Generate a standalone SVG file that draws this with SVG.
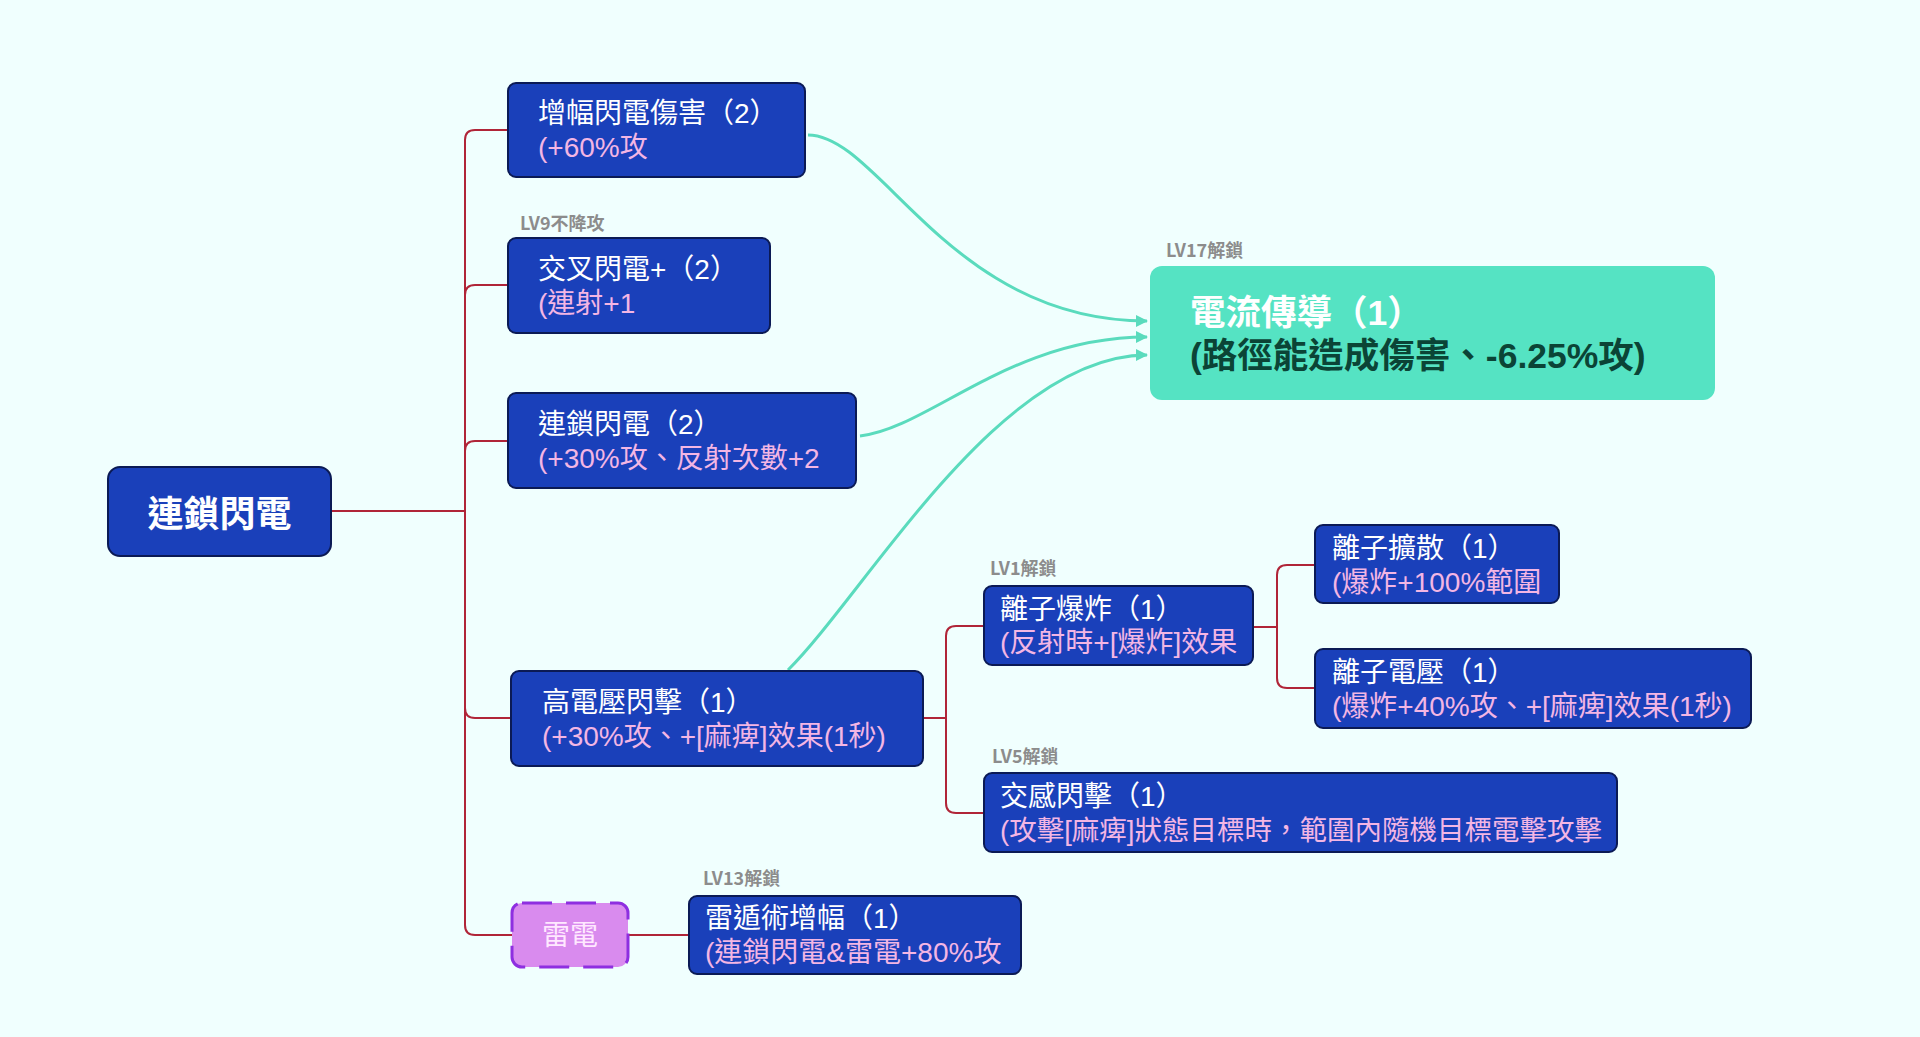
<svg xmlns="http://www.w3.org/2000/svg" width="1920" height="1037" viewBox="0 0 1920 1037">
<defs>
<style>
.bg{fill:#F0FFFE}
.node{fill:#1A40BA;stroke:#0B1A55;stroke-width:2}
.t{font-family:"Liberation Sans","Noto Sans CJK TC","Noto Sans CJK SC",sans-serif;font-size:28px}
.w{fill:#FFFFFF}
.p{fill:#F3B6E4}
.lbl{font-family:"Noto Sans CJK TC","Noto Sans CJK SC","Noto Sans",sans-serif;font-size:18px;font-weight:bold;fill:#8C8C8C}
.br{fill:none;stroke:#B02538;stroke-width:2}
.tl{fill:none;stroke:#5ADBBD;stroke-width:3}
</style>
<marker id="ah" viewBox="0 0 12 12" refX="11" refY="6" markerWidth="12" markerHeight="12" markerUnits="userSpaceOnUse" orient="auto">
<path d="M0,0 L12,6 L0,12 Z" fill="#5ADBBD"/>
</marker>
</defs>
<rect class="bg" x="0" y="0" width="1920" height="1037"/>

<g id="connectors">
<path class="br" d="M331,511 H465"/>
<path class="br" d="M465,511 V140 Q465,130 475,130 H508"/>
<path class="br" d="M465,511 V295 Q465,285 475,285 H508"/>
<path class="br" d="M465,511 V451 Q465,441 475,441 H508"/>
<path class="br" d="M465,511 V708 Q465,718 475,718 H511"/>
<path class="br" d="M465,511 V925 Q465,935 475,935 H512"/>
<path class="br" d="M923,718 H946"/>
<path class="br" d="M946,718 V636 Q946,626 956,626 H984"/>
<path class="br" d="M946,718 V803 Q946,813 956,813 H984"/>
<path class="br" d="M1253,627 H1277"/>
<path class="br" d="M1277,627 V575 Q1277,565 1287,565 H1315"/>
<path class="br" d="M1277,627 V678 Q1277,688 1287,688 H1315"/>
<path class="br" d="M628,935 H689"/>
<path class="tl" marker-end="url(#ah)" d="M808,135 C880,135 950,321 1147,321"/>
<path class="tl" marker-end="url(#ah)" d="M860,436 C930,428 1010,337 1147,337"/>
<path class="tl" marker-end="url(#ah)" d="M788,670 C868,590 1000,355 1147,355"/>
</g>

<g id="root">
<rect class="node" x="108" y="467" width="223" height="89" rx="12"/>
<text class="t w" x="219.5" y="527" font-weight="bold" text-anchor="middle" style="font-size:36px">連鎖閃電</text>
</g>

<g id="n-amp">
<rect class="node" x="508" y="83" width="297" height="94" rx="8"/>
<text class="t"><tspan class="w" x="538" y="123">增幅閃電傷害（2）</tspan><tspan class="p" x="538" y="157">(+60%攻</tspan></text>
</g>

<g id="n-cross">
<text class="lbl" x="520" y="230">LV9不降攻</text>
<rect class="node" x="508" y="238" width="262" height="95" rx="8"/>
<text class="t"><tspan class="w" x="538" y="279">交叉閃電+（2）</tspan><tspan class="p" x="538" y="313">(連射+1</tspan></text>
</g>

<g id="n-chain">
<rect class="node" x="508" y="393" width="348" height="95" rx="8"/>
<text class="t"><tspan class="w" x="538" y="434">連鎖閃電（2）</tspan><tspan class="p" x="538" y="468">(+30%攻、反射次數+2</tspan></text>
</g>

<g id="n-hv">
<rect class="node" x="511" y="671" width="412" height="95" rx="8"/>
<text class="t"><tspan class="w" x="542" y="712">高電壓閃擊（1）</tspan><tspan class="p" x="542" y="746">(+30%攻、+[麻痺]效果(1秒)</tspan></text>
</g>

<g id="n-thunder">
<rect x="512" y="903" width="116" height="64" rx="10" fill="#D98BEE" stroke="#8E2FE0" stroke-width="3" stroke-dasharray="30 14"/>
<text class="t" x="570" y="945" text-anchor="middle" fill="#FFE8FF">雷電</text>
</g>

<g id="n-shield">
<text class="lbl" x="703" y="885">LV13解鎖</text>
<rect class="node" x="689" y="896" width="332" height="78" rx="8"/>
<text class="t"><tspan class="w" x="705" y="928">雷遁術增幅（1）</tspan><tspan class="p" x="705" y="962">(連鎖閃電&amp;雷電+80%攻</tspan></text>
</g>

<g id="n-ionblast">
<text class="lbl" x="990" y="575">LV1解鎖</text>
<rect class="node" x="984" y="586" width="269" height="79" rx="8"/>
<text class="t"><tspan class="w" x="1000" y="619">離子爆炸（1）</tspan><tspan class="p" x="1000" y="652">(反射時+[爆炸]效果</tspan></text>
</g>

<g id="n-ionspread">
<rect class="node" x="1315" y="525" width="244" height="78" rx="8"/>
<text class="t"><tspan class="w" x="1332" y="558">離子擴散（1）</tspan><tspan class="p" x="1332" y="592">(爆炸+100%範圍</tspan></text>
</g>

<g id="n-ionvolt">
<rect class="node" x="1315" y="649" width="436" height="79" rx="8"/>
<text class="t"><tspan class="w" x="1332" y="682">離子電壓（1）</tspan><tspan class="p" x="1332" y="716">(爆炸+40%攻、+[麻痺]效果(1秒)</tspan></text>
</g>

<g id="n-induct">
<text class="lbl" x="992" y="763">LV5解鎖</text>
<rect class="node" x="984" y="773" width="633" height="79" rx="8"/>
<text class="t"><tspan class="w" x="1000" y="806">交感閃擊（1）</tspan><tspan class="p" x="1000" y="840" style="font-size:27.5px">(攻擊[麻痺]狀態目標時，範圍內隨機目標電擊攻擊</tspan></text>
</g>

<g id="n-current">
<text class="lbl" x="1166" y="257">LV17解鎖</text>
<rect x="1150" y="266" width="565" height="134" rx="12" fill="#55E3C3"/>
<text class="t" font-weight="bold" style="font-size:35.5px"><tspan fill="#FFFFFF" x="1190" y="325">電流傳導（1）</tspan><tspan fill="#0B4436" x="1190" y="368">(路徑能造成傷害、-6.25%攻)</tspan></text>
</g>
</svg>
